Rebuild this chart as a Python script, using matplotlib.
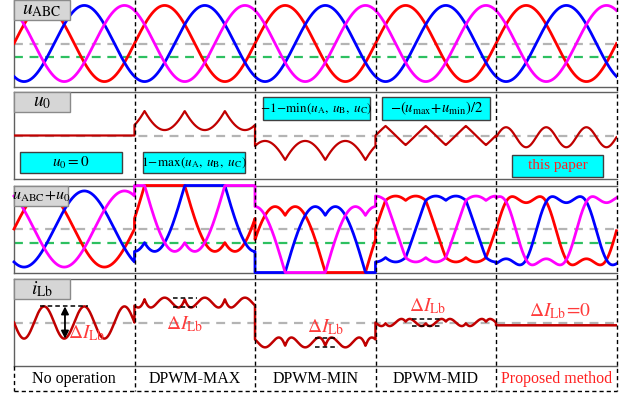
import numpy as np
import matplotlib
matplotlib.use("Agg")
import matplotlib.pyplot as plt
from matplotlib.patches import Rectangle

plt.rcParams["mathtext.fontset"] = "stix"
plt.rcParams["font.family"] = ["Liberation Serif", "DejaVu Serif"]

# ---- data -------------------------------------------------------------
methods = ["No operation", "DPWM-MAX", "DPWM-MIN", "DPWM-MID", "Proposed method"]
method_colors = ["black", "black", "black", "black", "#ff2020"]
u0_labels = [r"$u_0 = 0$",
             r"$1\!-\!\mathrm{max}(u_{\mathrm{A}},\;u_{\mathrm{B}},\;u_{\mathrm{C}})$",
             r"$-1\!-\!\mathrm{min}(u_{\mathrm{A}},\;u_{\mathrm{B}},\;u_{\mathrm{C}})$",
             r"$-(u_{\mathrm{max}}\!+\!u_{\mathrm{min}})/2$",
             "this paper"]
panel_labels = [r"$u_{\mathrm{ABC}}$", r"$u_0$",
                r"$u_{\mathrm{ABC}}\!+\!u_0$", r"$i_{\mathrm{Lb}}$"]

m_index = 0.875          # phase-voltage amplitude (per unit of DC half-bus)
third_amp = 0.23         # amplitude of the injected 3rd harmonic (proposed)
third_offset = -0.04     # small DC shift of the proposed zero-sequence voltage
ripple_amp = 0.37        # 3rd-harmonic ripple of i_Lb with no zero-sequence
ref_level = 0.0          # grey reference line
green_level = -0.32      # green reference line
phase_colors = ["#ff0000", "#0000ff", "#ff00ff"]
phase_shifts = [0.0, -2 * np.pi / 3, 2 * np.pi / 3]

N = 600
gain = ripple_amp / third_amp


def phase_voltages(x):
    th = 2 * np.pi * x
    return [m_index * np.sin(th + s) for s in phase_shifts]


def zero_sequence(k, x):
    ua, ub, uc = phase_voltages(x)
    umax = np.maximum(np.maximum(ua, ub), uc)
    umin = np.minimum(np.minimum(ua, ub), uc)
    th = 2 * np.pi * (x - k)
    if k == 0:
        return np.zeros_like(x)
    if k == 1:
        return 1 - umax
    if k == 2:
        return -1 - umin
    if k == 3:
        return -(umax + umin) / 2
    return third_amp * np.sin(3 * th) + third_offset


xs, u0s, ils = [], [], []
for k in range(len(methods)):
    x = np.linspace(k, k + 1, N)
    u0 = zero_sequence(k, x)
    il = -ripple_amp * np.sin(3 * 2 * np.pi * (x - k)) + gain * u0
    xs.append(x)
    u0s.append(u0)
    ils.append(il)
x_all = np.concatenate(xs)
u0_all = np.concatenate(u0s)
il_all = np.concatenate(ils)
u_all = phase_voltages(x_all)

# ---- layout -----------------------------------------------------------
W, H = 638, 396
fig = plt.figure(figsize=(W / 100, H / 100), dpi=100)
LEFT, RIGHT = 14, 616.5


def px_axes(left, top, right, bottom, **kw):
    return fig.add_axes([left / W, 1 - bottom / H, (right - left) / W,
                         (bottom - top) / H], **kw)


panel_rows = [(0, 87), (92, 179), (185.5, 272.5), (279, 366)]
axes = []
for top, bot in panel_rows:
    ax = px_axes(LEFT, top, RIGHT, bot)
    ax.set_xlim(0, 5)
    ax.set_ylim(-1, 1)
    ax.set_xticks([])
    ax.set_yticks([])
    for side in ["top", "bottom", "left"]:
        ax.spines[side].set_color("#5f5f5f")
        ax.spines[side].set_linewidth(1.0)
    ax.spines["right"].set_visible(False)
    ax.axhline(ref_level, color="#b4b4b4", lw=1.6, dashes=(4, 3), zorder=1)
    axes.append(ax)
ax1, ax2, ax3, ax4 = axes
ax1.spines["top"].set_visible(False)

for ax in (ax1, ax3):
    ax.axhline(green_level, color="#2dc060", lw=1.6, dashes=(4, 3), zorder=1)

# phase voltages
for u, c in zip(u_all, phase_colors):
    ax1.plot(x_all, u, color=c, lw=2.0, zorder=3)

# zero-sequence voltage
ax2.plot(x_all, u0_all, color="#c00000", lw=1.6, zorder=3)

# modulated phase voltages
for u, c in zip(u_all, phase_colors):
    ax3.plot(x_all, u + u0_all, color=c, lw=2.0, zorder=3, clip_on=False)

# inductor current
ax4.plot(x_all, il_all, color="#c00000", lw=1.8, zorder=3)

# panel name boxes
box_w = [0.093, 0.093, 0.090, 0.093]
box_fs = [14, 14, 11.5, 14]
for ax, lab, bw, fs in zip(axes, panel_labels, box_w, box_fs):
    ax.add_patch(Rectangle((0, 0.77), bw, 0.23, transform=ax.transAxes,
                           facecolor="#d6d6d6", edgecolor="#8a8a8a", lw=1.0,
                           zorder=5, clip_on=False))
    ax.text(bw / 2, 0.885, lab, transform=ax.transAxes, ha="center",
            va="center", fontsize=fs, zorder=6)

# formula boxes in the u0 panel
cyan_boxes = [(0.010, 0.07, 0.169, 0.24), (0.214, 0.07, 0.169, 0.24),
              (0.413, 0.678, 0.178, 0.265), (0.611, 0.678, 0.179, 0.265),
              (0.827, 0.023, 0.151, 0.253)]
cyan_fs = [11, 9.5, 9.5, 10.5, 11]
for (bx, by, bw, bh), lab, col, fs in zip(cyan_boxes, u0_labels,
                                          method_colors, cyan_fs):
    ax2.add_patch(Rectangle((bx, by), bw, bh, transform=ax2.transAxes,
                            facecolor="#00ffff", edgecolor="#404040", lw=1.0,
                            zorder=5))
    ax2.text(bx + bw / 2, by + bh / 2, lab, transform=ax2.transAxes,
             ha="center", va="center", fontsize=fs, color=col, zorder=6)

# ripple annotations on i_Lb
red_txt = "#ff3b3b"
dI = r"$\mathit{\Delta}I_{\mathrm{Lb}}$"
seg1_hi = ils[0].max()
seg1_lo = ils[0].min()
ax4.plot([0.216, 0.614], [seg1_hi, seg1_hi], color="k", lw=1.1,
         dashes=(3, 2), zorder=4)
ax4.annotate("", xy=(0.423, seg1_lo), xytext=(0.423, seg1_hi),
             arrowprops=dict(arrowstyle="<|-|>", color="k", lw=1.3,
                             mutation_scale=11, shrinkA=0, shrinkB=0),
             zorder=4)
ax4.text(0.6, -0.24, dI, color=red_txt, fontsize=14, ha="center",
         va="center", zorder=6)

ripple_marks = [(1, 1.32, 1.52, 1.42, -0.03),
                (2, 2.50, 2.69, 2.59, -0.10),
                (3, 3.30, 3.55, 3.43, 0.38)]
for k, xa, xb, tx, ty in ripple_marks:
    inner = ils[k][20:-20]
    for lvl in (inner.max(), inner.min()):
        ax4.plot([xa, xb], [lvl, lvl], color="k", lw=1.1, dashes=(3, 2),
                 zorder=4)
    ax4.text(tx, ty, dI, color=red_txt, fontsize=14, ha="center",
             va="center", zorder=6)
ax4.text(4.53, 0.25, dI + r"$\!=\!0$", color=red_txt, fontsize=14,
         ha="center", va="center", zorder=6)

# segment dividers and method names
ov = px_axes(LEFT, 0, RIGHT, 391.5)
ov.set_xlim(0, 5)
ov.set_ylim(391.5, 0)
ov.axis("off")
ov.patch.set_alpha(0)
for k in range(1, 6):
    ov.plot([k, k], [0, 391], color="k", lw=1.0, dashes=(3, 2.2),
            clip_on=False)
ov.plot([0, 0], [366, 391], color="k", lw=1.0, dashes=(3, 2.2), clip_on=False)
ov.plot([0, 5], [391, 391], color="k", lw=1.0, dashes=(3, 2.2), clip_on=False)
for k, (name, col) in enumerate(zip(methods, method_colors)):
    ov.text(k + 0.5, 379, name, ha="center", va="center", fontsize=11.5,
            color=col)

fig.savefig("out.png", dpi=100)
